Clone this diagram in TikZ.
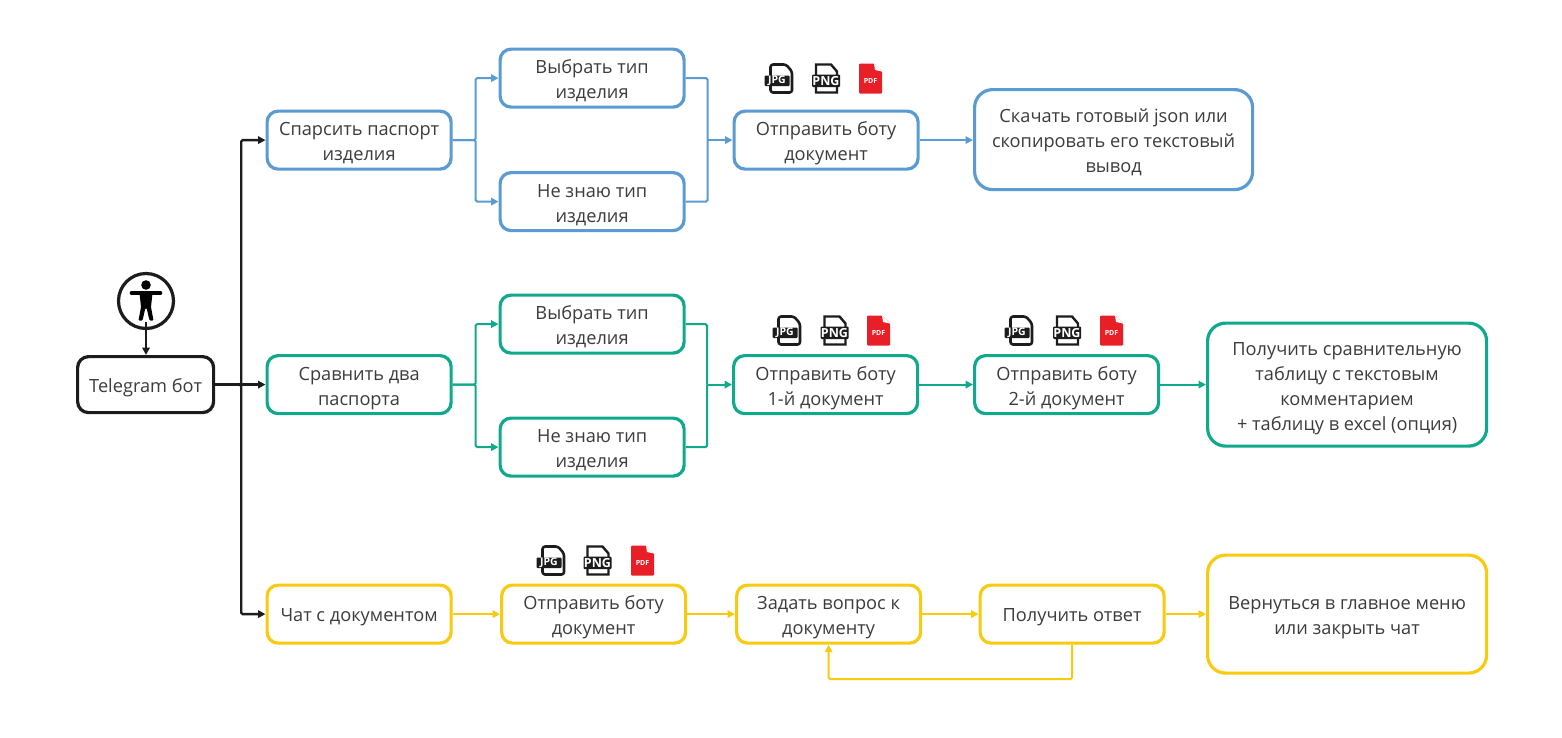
\documentclass[tikz,border=0pt]{standalone}
\usepackage{fontspec}
\setmainfont{Open Sans}
\usetikzlibrary{arrows.meta,calc}
\definecolor{cblue}{HTML}{5B9BD3}
\definecolor{cgreen}{HTML}{10A98B}
\definecolor{cyellow}{HTML}{F8CA10}
\definecolor{cblack}{HTML}{1C1C1C}
\definecolor{ctext}{HTML}{3C3C3C}
\definecolor{cred}{HTML}{E81F27}
\tikzset{
  x=1pt,y=-1pt,
  boxbase/.style={draw,line width=3.2pt,rounded corners=11pt,align=center,text=ctext,fill=white,
    font=\fontsize{18.2}{25}\selectfont,inner sep=0pt,anchor=north west,
    execute at begin node={\rule{0pt}{#1pt}},execute at end node={\rule[-5pt]{0pt}{5pt}}},
  boxbase/.default=46,
  sbox/.style={boxbase=#1,minimum width=184pt,minimum height=58pt},
  sbox/.default=46,
  lbox/.style={boxbase=#1,rounded corners=18pt},
  oneline/.style={execute at end node={\rule[-13pt]{0pt}{13pt}}},
  link/.style={line width=2pt,rounded corners=1.5pt,-{Triangle[length=7.5pt,width=7.5pt]}},
  plainlink/.style={line width=2pt,rounded corners=1.5pt},
  blk/.style={link,line width=2.3pt,draw=cblack},
  jpgicon/.pic={
    \draw[line width=2.6pt,cblack,line join=round,rounded corners=2.5pt,fill=white]
      (-8.5,-14) -- (7,-14) -- (13,-7) -- (13,14) -- (-8.5,14) -- cycle;
    \fill[cblack,rounded corners=1pt] (-14.5,-3) rectangle (10.5,7.5);
    \node[name=-lbl,text=white,font=\bfseries\fontsize{10.5}{10.5}\selectfont,inner sep=0pt] at (-2,2.2) {JPG};
  },
  pngicon/.pic={
    \draw[line width=2.4pt,cblack,fill=white]
      (-10,-14) -- (5,-14) -- (11,-7) -- (11,14) -- (-10,14) -- cycle;
    \fill[cblack,rounded corners=1pt] (-14,-4) rectangle (14,8.5);
    \node[name=-lbl,text=white,font=\bfseries\fontsize{12.5}{12.5}\selectfont,inner sep=0pt] at (0,2.2) {PNG};
  },
  pdficon/.pic={
    \fill[cred,rounded corners=1pt] (-11.5,-15) -- (3.5,-15) -- (11.5,-7) -- (11.5,15) -- (-11.5,15) -- cycle;
    \fill[white] (3.5,-15) -- (11.5,-7) -- (4.5,-8.5) -- cycle;
    \node[name=-lbl,text=white,font=\bfseries\fontsize{7}{7}\selectfont,inner sep=0pt] at (0,2) {PDF};
  },
}
\begin{document}
\begin{tikzpicture}
\useasboundingbox (0,0) rectangle (1562,737);
% Boxes
\begin{scope}[shift={(-1.5,-1.5)}]
\node[boxbase=28,oneline,draw=cblack,minimum width=136pt,minimum height=56pt] (tg) at (77.5,356.5) {Telegram бот};

\node[sbox,draw=cblue] (sp) at (267,111) {Спарсить паспорт\\изделия};
\node[sbox,draw=cblue] (a1) at (500,49) {Выбрать тип\\изделия};
\node[sbox,draw=cblue] (b1) at (500,172.5) {Не знаю тип\\изделия};
\node[sbox,draw=cblue] (o1) at (734,111) {Отправить боту\\документ};
\node[lbox=71,draw=cblue,minimum width=278pt,minimum height=100pt] (r1) at (974.5,89.5) {Скачать готовый json или\\скопировать его текстовый\\вывод};

\node[sbox,draw=cgreen] (cp) at (267,355.5) {Сравнить два\\паспорта};
\node[sbox,draw=cgreen] (a2) at (500,295) {Выбрать тип\\изделия};
\node[sbox,draw=cgreen] (b2) at (500,418) {Не знаю тип\\изделия};
\node[sbox,draw=cgreen] (o2) at (733.5,355.5) {Отправить боту\\1-й документ};
\node[sbox,draw=cgreen] (o3) at (974.5,355.5) {Отправить боту\\2-й документ};
\node[lbox=96,draw=cgreen,minimum width=279pt,minimum height=123pt] (r2) at (1207.5,323) {Получить сравнительную\\таблицу с текстовым\\комментарием\\+ таблицу в excel (опция)};

\node[sbox=28,oneline,draw=cyellow] (ch) at (267,585) {Чат с документом};
\node[sbox,draw=cyellow] (o4) at (501.5,585) {Отправить боту\\документ};
\node[sbox,draw=cyellow] (ask) at (736.5,585) {Задать вопрос к\\документу};
\node[sbox=28,oneline,draw=cyellow] (ans) at (980,585) {Получить ответ};
\node[lbox=46,draw=cyellow,minimum width=279pt,minimum height=118pt] (r3) at (1207.5,555) {Вернуться в главное меню\\или закрыть чат};
\end{scope}

% Actor
\node[circle,draw=cblack,line width=3.2pt,minimum size=55pt,inner sep=0pt,fill=white] (actor) at (146,301) {};
\fill[black] (146,285) circle (4.8);
\draw[black,line width=3.6pt,line cap=round] (131.5,293) -- (160.5,293);
\fill[black,rounded corners=1pt] (139.5,293) -- (152.5,293) -- (151,307) -- (153.5,320.5) -- (149.5,320.5) -- (146.6,308) -- (145.4,308) -- (142.5,320.5) -- (138.5,320.5) -- (141,307) -- cycle;
\coordinate (tail) at (146,322);
\draw[blk] (tail) -- (tg.north -| tail);

% Trunk
\coordinate (trunk) at ($(tg.east)+(26,0)$);
\draw[blk] (tg.east) -- (trunk) |- (sp.west);
\draw[blk] (tg.east) -- (cp.west);
\draw[blk] (tg.east) -- (trunk) |- (ch.west);

% Blue
\coordinate (f1) at ($(sp.east)+(23,0)$);
\coordinate (m1) at ($(o1.west)+(-25,0)$);
\draw[link,cblue] (sp.east) -- (f1) |- (a1.west);
\draw[link,cblue] (sp.east) -- (f1) |- (b1.west);
\draw[plainlink,cblue] (a1.east) -| (m1);
\draw[plainlink,cblue] (b1.east) -| (m1);
\draw[link,cblue] (m1) -- (o1.west);
\draw[link,cblue] (o1.east) -- (r1.west |- o1.east);

% Green
\coordinate (f2) at ($(cp.east)+(23,0)$);
\coordinate (m2) at ($(o2.west)+(-25,0)$);
\draw[link,cgreen] (cp.east) -- (f2) |- (a2.west);
\draw[link,cgreen] (cp.east) -- (f2) |- (b2.west);
\draw[plainlink,cgreen] (a2.east) -| (m2);
\draw[plainlink,cgreen] (b2.east) -| (m2);
\draw[link,cgreen] (m2) -- (o2.west);
\draw[link,cgreen] (o2.east) -- (o3.west);
\draw[link,cgreen] (o3.east) -- (r2.west |- o3.east);

% Yellow
\draw[link,cyellow] (ch.east) -- (o4.west);
\draw[link,cyellow] (o4.east) -- (ask.west);
\draw[link,cyellow] (ask.east) -- (ans.west);
\draw[link,cyellow] (ans.east) -- (r3.west |- ans.east);
\coordinate (fb) at (950,679);
\draw[link,cyellow] (ans.south) -- (ans.south |- fb) -- (ask.south |- fb) -- (ask.south);

% Icons
\pic (j1) at (779,78.5) {jpgicon};
\pic (p1) at (826,78.5) {pngicon};
\pic (d1) at (870.5,78.5) {pdficon};
\pic (j2) at (787,330.5) {jpgicon};
\pic (p2) at (834.5,330.5) {pngicon};
\pic (d2) at (878.5,330.5) {pdficon};
\pic (j3) at (1019,330.5) {jpgicon};
\pic (p3) at (1067,330.5) {pngicon};
\pic (d3) at (1111.5,330.5) {pdficon};
\pic (j4) at (551,560.5) {jpgicon};
\pic (p4) at (597.5,560.5) {pngicon};
\pic (d4) at (642.5,560.5) {pdficon};
\end{tikzpicture}
\end{document}
